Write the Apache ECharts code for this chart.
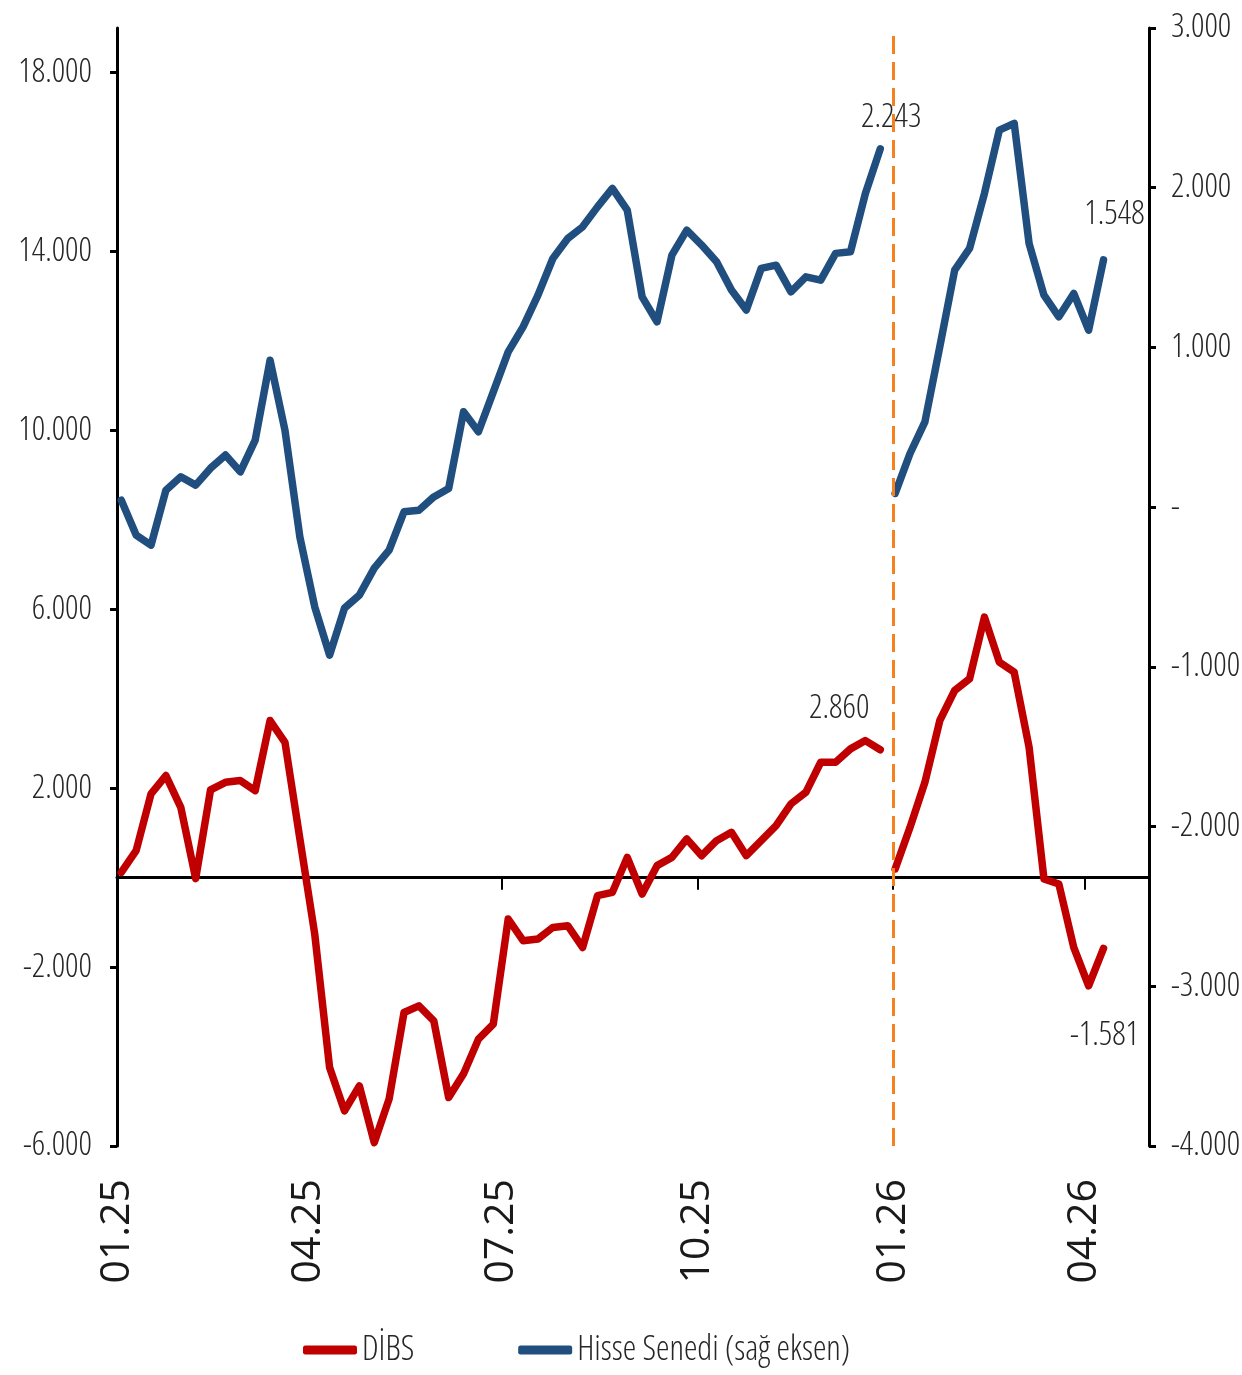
<!DOCTYPE html>
<html><head><meta charset="utf-8">
<script src="https://cdn.jsdelivr.net/npm/echarts@6/dist/echarts.min.js"></script>
<style>html,body{margin:0;padding:0;background:#fff}#c{width:1242px;height:1375px}</style>
</head><body><div id="c"></div>
<script>
// weekly observation dates (Fridays)
const dates2025 = ['2025-01-03','2025-01-10','2025-01-17','2025-01-24','2025-01-31','2025-02-07','2025-02-14','2025-02-21','2025-02-28','2025-03-07','2025-03-14','2025-03-21','2025-03-28','2025-04-04','2025-04-11','2025-04-18','2025-04-25','2025-05-02','2025-05-09','2025-05-16','2025-05-23','2025-05-30','2025-06-06','2025-06-13','2025-06-20','2025-06-27','2025-07-04','2025-07-11','2025-07-18','2025-07-25','2025-08-01','2025-08-08','2025-08-15','2025-08-22','2025-08-29','2025-09-05','2025-09-12','2025-09-19','2025-09-26','2025-10-03','2025-10-10','2025-10-17','2025-10-24','2025-10-31','2025-11-07','2025-11-14','2025-11-21','2025-11-28','2025-12-05','2025-12-12','2025-12-19','2025-12-26'];
const dates2026 = ['2026-01-02','2026-01-09','2026-01-16','2026-01-23','2026-01-30','2026-02-06','2026-02-13','2026-02-20','2026-02-27','2026-03-06','2026-03-13','2026-03-20','2026-03-27','2026-04-03','2026-04-10'];
// DİBS (left axis)
const dibs2025 = [119,604,1873,2283,1573,-20,1963,2133,2171,1947,3514,3028,873,-1260,-4246,-5215,-4655,-5924,-4946,-3015,-2865,-3201,-4917,-4387,-3610,-3274,-924,-1410,-1372,-1112,-1074,-1560,-403,-329,454,-365,269,454,866,492,828,1014,492,828,1164,1650,1909,2581,2581,2880,3066,2860];
const dibs2026 = [195,1126,2133,3514,4185,4447,5826,4819,4595,2916,-29,-141,-1560,-2417,-1581];
// Hisse Senedi (right axis)
const hisse2025 = [44,-175,-238,106,190,138,244,326,221,420,920,482,-186,-624,-927,-632,-551,-382,-269,-29,-19,64,117,597,472,722,972,1129,1327,1557,1682,1755,1880,1996,1860,1317,1160,1578,1734,1641,1536,1359,1234,1495,1515,1348,1442,1421,1589,1599,1964,2243];
const hisse2026 = [86,336,534,1004,1484,1620,1964,2361,2403,1651,1327,1192,1338,1108,1548];
// axis ticks
const quarterDates = ['2025-01-01','2025-04-01','2025-07-01','2025-10-01','2026-01-01','2026-04-01'];
const quarterLabels = ['01.25','04.25','07.25','10.25','01.26','04.26'];
const leftTicks = [-6000,-2000,2000,6000,10000,14000,18000];
const yearBreak = '2026-01-01';
const seriesNames = ['DİBS','Hisse Senedi (sağ eksen)'];

const base = Date.parse('2025-01-01');
const dayOf = s => (Date.parse(s) - base) / 86400000;
const fmt = v => v === 0 ? '-' : (v < 0 ? '-' : '') + Math.abs(Math.round(v)).toString().replace(/\B(?=(\d{3})+(?!\d))/g, '.');
const quarterDays = quarterDates.map(dayOf);

const FONT = "'Open Sans','DejaVu Sans Condensed',sans-serif";
const COND = '300 condensed';
const TXT = '#262626';
const RED = '#C00000', BLUE = '#1F4E7F';

function pts(dates, vals, labelOpt) {
  return vals.map((v, i) => {
    const item = { value: [dayOf(dates[i]), v] };
    if (i === vals.length - 1) {
      item.label = Object.assign({ show: true, formatter: p => fmt(p.value[1]),
        fontFamily: FONT, fontWeight: COND, fontSize: 33, color: TXT }, labelOpt);
    }
    return item;
  });
}

function lineSeries(name, yIdx, color, data, extra) {
  return Object.assign({
    name, type: 'line', xAxisIndex: 0, yAxisIndex: yIdx, data,
    showSymbol: true, showAllSymbol: true, symbol: 'circle', symbolSize: 2,
    itemStyle: { color }, color,
    lineStyle: { color, width: 7.5, join: 'round', cap: 'round' },
    emphasis: { disabled: true }
  }, extra || {});
}

const chart = echarts.init(document.getElementById('c'), null, { renderer: 'canvas' });
chart.setOption({
  animation: false,
  backgroundColor: '#fff',
  grid: { left: 117, right: 93, top: 28, bottom: 229, outerBoundsMode: 'none', containLabel: false },
  legend: {
    data: seriesNames, left: 303, top: 1332, padding: 0, icon: 'roundRect',
    itemWidth: 54, itemHeight: 9, itemGap: 104,
    textStyle: { fontSize: 34, fontFamily: FONT, fontWeight: COND, color: TXT, lineHeight: 36 }
  },
  xAxis: [
    { type: 'value', min: 0, max: 485.4, position: 'bottom',
      axisLine: { show: true, onZero: true, lineStyle: { color: '#000', width: 3 } },
      axisTick: { show: true, customValues: quarterDays, length: 12, lineStyle: { color: '#000', width: 2 } },
      axisLabel: { show: false }, splitLine: { show: false } },
    { type: 'value', min: 0, max: 485.4, position: 'bottom',
      axisLine: { show: false, onZero: false }, axisTick: { show: false },
      axisLabel: { show: true, customValues: quarterDays, rotate: 90, margin: 33,
        fontSize: 41, fontFamily: FONT, fontWeight: 400, color: '#1a1a1a',
        formatter: v => quarterLabels[quarterDays.indexOf(v)] || '' },
      splitLine: { show: false } }
  ],
  yAxis: [
    { type: 'value', min: -6000, max: 19000, position: 'left',
      axisLine: { show: true, onZero: false, lineStyle: { color: '#000', width: 3 } },
      axisTick: { show: true, customValues: leftTicks, length: 7, lineStyle: { color: '#000', width: 3 } },
      axisLabel: { customValues: leftTicks, formatter: fmt, margin: 25, fontSize: 33, fontFamily: FONT, fontWeight: COND, color: TXT },
      splitLine: { show: false } },
    { type: 'value', min: -4000, max: 3000, interval: 1000, position: 'right',
      axisLine: { show: true, onZero: false, lineStyle: { color: '#000', width: 3 } },
      axisTick: { show: true, length: 7, lineStyle: { color: '#000', width: 3 } },
      axisLabel: { formatter: fmt, margin: 22, fontSize: 33, fontFamily: FONT, fontWeight: COND, color: TXT },
      splitLine: { show: false } }
  ],
  series: [
    lineSeries(seriesNames[1], 1, BLUE, pts(dates2025, hisse2025, { position: 'top', offset: [11, -9] })),
    lineSeries(seriesNames[1], 1, BLUE, pts(dates2026, hisse2026, { position: 'top', offset: [11, -23] })),
    lineSeries(seriesNames[0], 0, RED, pts(dates2025, dibs2025, { position: 'top', offset: [-41, -19] })),
    lineSeries(seriesNames[0], 0, RED, pts(dates2026, dibs2026, { position: 'bottom', offset: [1, 65] }), {
      markLine: { silent: true, symbol: 'none', label: { show: false },
        lineStyle: { color: '#F5821F', width: 3, type: [18, 8] },
        data: [{ xAxis: dayOf(yearBreak) }] }
    })
  ]
});
</script></body></html>
